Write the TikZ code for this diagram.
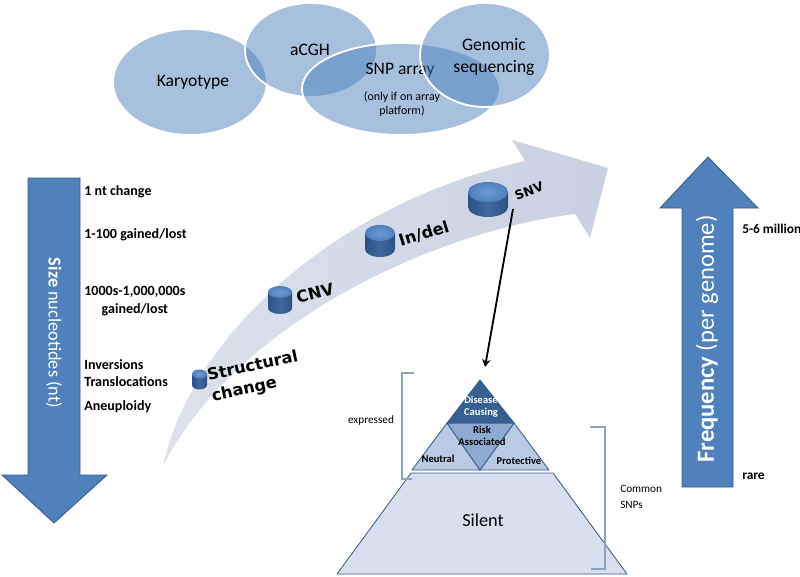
\documentclass[tikz,border=0pt]{standalone}
\usepackage{fontspec}
\setmainfont{Carlito}
\newfontfamily\heavyfont{DejaVu Sans}
\usepackage{tikz}
\usetikzlibrary{arrows.meta, positioning, calc}

\definecolor{ofblue}{HTML}{4F81BD}
\definecolor{ofdark}{HTML}{385D8A}
\definecolor{bandlight}{HTML}{DDE2EC}
\definecolor{bandgrey}{HTML}{C8D0E2}
\definecolor{pucktopc}{HTML}{4F80BC}
\definecolor{puckhigh}{HTML}{6E9AD0}
\definecolor{pucksidec}{HTML}{2B5285}
\definecolor{pucksidel}{HTML}{41699E}
\definecolor{dcblue}{HTML}{376092}
\definecolor{riskblue}{HTML}{8FAAD0}
\definecolor{sideblue}{HTML}{B9CBE4}
\definecolor{silentblue}{HTML}{D7E0EE}
\definecolor{bracketc}{HTML}{8EA3BE}

\tikzset{
  oval/.style={fill=ofblue, fill opacity=0.5, draw=white, line width=1.3pt},
  ovaltext/.style={font=\fontsize{12.5}{16}\selectfont, align=center},
  notesmall/.style={font=\fontsize{8.5}{9.5}\selectfont, align=center},
  fatarrow/.style={fill=ofblue, draw=ofdark, line width=0.6pt},
  sidelabel/.style={anchor=west, inner sep=0pt, font=\fontsize{10}{12.5}\selectfont\bfseries},
  pucktop/.style={inner color=puckhigh, outer color=pucktopc},
  puckside/.style={left color=pucksidec, right color=pucksidec, middle color=pucksidel},
  pucklabel/.style={font=\heavyfont\bfseries\fontsize{11.5}{15}\selectfont, inner sep=0pt},
  pyrpart/.style={draw=ofdark, line width=0.6pt, line join=round},
  pyrtext/.style={font=\fontsize{7.5}{8.5}\selectfont\bfseries, align=center, inner sep=0pt},
  bracket/.style={draw=bracketc, line width=0.8pt},
  notetext/.style={font=\fontsize{8}{11}\selectfont, align=left},
}

% top centre x, top centre y, x radius, y radius, depth
\newcommand{\puck}[5]{%
  \shade[puckside] ({#1-#3},#2) -- ({#1-#3},{#2+#5})
    arc[start angle=180, end angle=0, x radius=#3, y radius=#4] -- ({#1+#3},#2) -- cycle;
  \shade[pucktop] (#1,#2) ellipse[x radius=#3, y radius=#4];
}

\begin{document}
\begin{tikzpicture}[x=0.025cm, y=-0.025cm, >={Stealth[length=5.5pt, width=6pt]}]
  \useasboundingbox (0,0) rectangle (800,577);

  % --- Detection methods (overlapping ovals)
  \draw[oval] (190,82) ellipse[x radius=77, y radius=53];
  \node[ovaltext] (karyo) at (193,82) {Karyotype};
  \draw[oval] (311,50) ellipse[x radius=66, y radius=47];
  \node[ovaltext] (acgh) at (310,50) {aCGH};
  \draw[oval] (401,89) ellipse[x radius=99, y radius=46];
  \node[ovaltext] (snparr) at (400,70) {SNP array};
  \node[notesmall] (snpnote) at (402,104) {(only if on array\\platform)};
  \draw[oval] (485,55) ellipse[x radius=65, y radius=52];
  \node[ovaltext] (genseq) at (494,57) {Genomic\\sequencing};

  % --- Size arrow, pointing down
  \draw[fatarrow] (28,178) -- (80,178) -- (80,475) -- (107,475) -- (54,523)
    -- (2,475) -- (28,475) -- cycle;
  \node[rotate=-90, text=white, font=\fontsize{13}{15}\selectfont] (sizelbl)
    at (54,333) {\textbf{Size} nucleotides (nt)};

  \node[sidelabel] (nt1) at (84,192) {1 nt change};
  \node[sidelabel] (nt100) at (84,235) {1-100 gained/lost};
  \node[sidelabel, align=center] (ntmb) at (84,301) {1000s-1,000,000s\\gained/lost};
  \node[sidelabel, align=left] (ntinv) at (84,373) {Inversions\\Translocations};
  \node[sidelabel] (ntaneu) at (84,407) {Aneuploidy};

  % --- Frequency arrow, pointing up
  \draw[fatarrow] (682,487) -- (733,487) -- (733,208) -- (758,208) -- (708,157)
    -- (660,208) -- (682,208) -- cycle;
  \node[rotate=90, text=white, font=\fontsize{17.5}{19}\selectfont] (freqlbl)
    at (707,339) {\textbf{Frequency} (per genome)};
  \node[sidelabel, font=\fontsize{9.5}{11}\selectfont\bfseries] (many) at (742,229) {5-6 million};
  \node[sidelabel, font=\fontsize{9.5}{11}\selectfont\bfseries] (rare) at (742,476) {rare};

  % --- Curved band from structural change to SNV
  \shade[left color=bandlight, right color=bandgrey]
    (163,466) .. controls (190,340) and (330,205) .. (525,161)
    -- (512,140) -- (608,168) -- (590,238) -- (575,214)
    .. controls (430,232) and (235,325) .. (163,466) -- cycle;

  % --- Variant pucks, growing along the band
  \puck{199.5}{374}{7.5}{4.5}{11}
  \puck{280}{292}{12}{6}{16}
  \puck{380}{233}{15}{8}{16}
  \puck{488}{192}{20}{10}{15}

  \node[pucklabel, rotate=12, align=left] (structlbl) at (255,377) {Structural\\change};
  \node[pucklabel, rotate=15] (cnvlbl) at (315,293) {CNV};
  \node[pucklabel, rotate=17] (indellbl) at (424,234) {In/del};
  \node[pucklabel, rotate=21, font=\heavyfont\bfseries\fontsize{9}{11}\selectfont] (snvlbl)
    at (529,191) {SNV};

  % --- SNV consequences pyramid
  \coordinate (apex) at (480,380);
  \coordinate (dcL) at (447,423);
  \coordinate (dcR) at (514,423);
  \coordinate (pL) at (412,470);
  \coordinate (pM) at (480,470);
  \coordinate (pR) at (549,470);

  \filldraw[pyrpart, fill=silentblue] (411,473) -- (553,473) -- (627,574) -- (337,574) -- cycle;
  \filldraw[pyrpart, fill=sideblue] (dcL) -- (pM) -- (pL) -- cycle;
  \filldraw[pyrpart, fill=sideblue] (dcR) -- (pR) -- (pM) -- cycle;
  \filldraw[pyrpart, fill=riskblue] (dcL) -- (dcR) -- (pM) -- cycle;
  \filldraw[pyrpart, fill=dcblue] (apex) -- (dcL) -- (dcR) -- cycle;

  \node[pyrtext, text=white] (dc) at (481,407) {Disease\\Causing};
  \node[pyrtext] (risk) at (482,436) {Risk\\Associated};
  \node[pyrtext] (neutral) at (438,459) {Neutral};
  \node[pyrtext] (protect) at (519,461) {Protective};
  \node[font=\fontsize{13}{15}\selectfont] (silent) at (483,520) {Silent};

  % --- Brackets
  \draw[bracket] (414,373) -- (402,373) -- (402,479) -- (412,479);
  \draw[bracket] (590,427) -- (605,427) -- (605,569) -- (591,569);
  \node[notetext] (expr) at (371,420) {expressed};
  \node[notetext, anchor=west, inner sep=0pt] (common) at (620,497) {Common\\SNPs};

  % --- SNV leads to the pyramid
  \coordinate (snvfoot) at (513,209);
  \coordinate (pyrtop) at (485,367);
  \draw[->, line width=1.3pt] (snvfoot) -- (pyrtop);
\end{tikzpicture}
\end{document}
